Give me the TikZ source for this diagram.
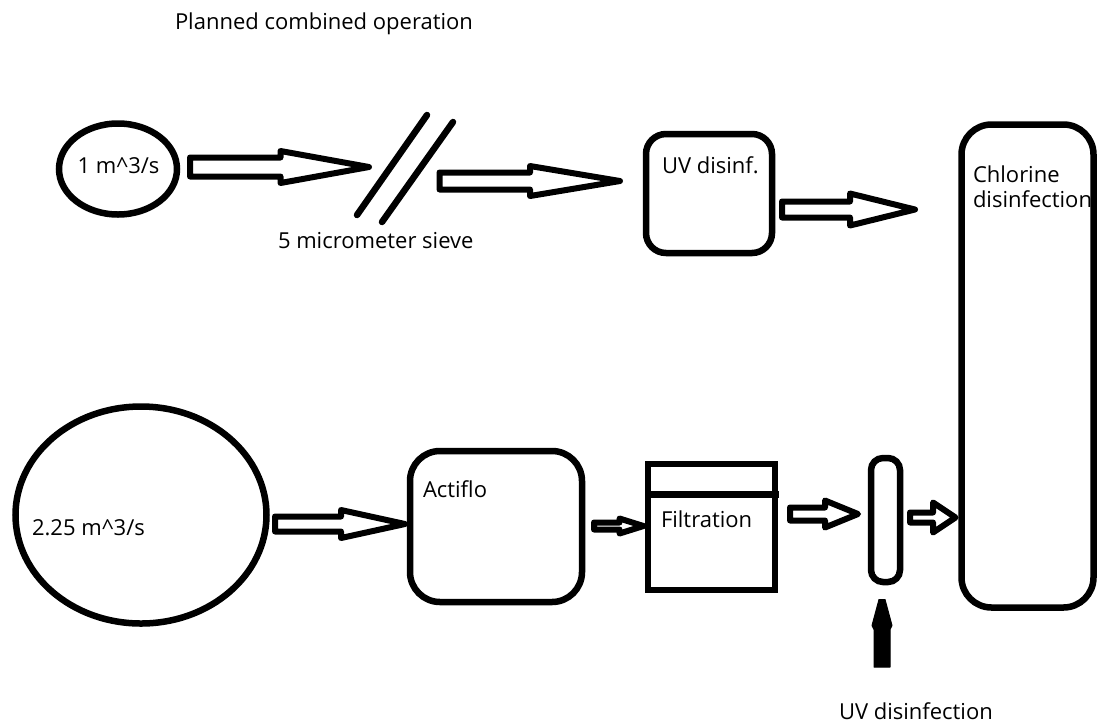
\documentclass[tikz,border=0pt]{standalone}
\usepackage{fontspec}
\setmainfont{Open Sans}
\usetikzlibrary{shapes.geometric,calc}
\tikzset{
  shapeline/.style={draw=black, line width=6.5pt, outer sep=0pt, inner sep=0pt},
  boxr/.style={shapeline, rectangle, rounded corners=#1},
  blk/.style={draw=black, line width=6pt, line join=round, fill=white},
  txt/.style={inner sep=0pt, outer sep=0pt, text=black, font=\fontsize{22}{25}\selectfont, align=left},
}
% hollow block arrow: #1 start, #2 tip, #3 shaft half height, #4 head half height, #5 head length
\newcommand{\harrow}[5]{%
  \draw[blk] let \p1=(#1), \p2=(#2) in
    (\x1,\y1+#3pt) -- (\x2-#5pt,\y1+#3pt) -- (\x2-#5pt,\y1+#4pt) -- (\x2,\y1)
    -- (\x2-#5pt,\y1-#4pt) -- (\x2-#5pt,\y1-#3pt) -- (\x1,\y1-#3pt) -- cycle;}
\begin{document}
\begin{tikzpicture}[x=1pt,y=-1pt]
\useasboundingbox (0,0) rectangle (1097,724);
\fill[white] (0,0) rectangle (1097,724);

% title
\node[txt, anchor=base west] (title) at (175,29) {Planned combined operation};

% upper line
\node[shapeline, ellipse, minimum width=118pt, minimum height=91pt] (src1) at (118,169) {};
\node[txt, anchor=base] (src1t) at (118.5,173) {1 m\textasciicircum 3/s};

\coordinate (sieve) at (405,168);
\draw[shapeline, line cap=round] ($(sieve)+(22,-53)$) -- ($(sieve)+(-48,47)$);
\draw[shapeline, line cap=round] ($(sieve)+(48,-46)$) -- ($(sieve)+(-23,54)$);
\node[txt, anchor=base west] (sievet) at (278,248) {5 micrometer sieve};

\node[boxr=20pt, minimum width=126pt, minimum height=119pt] (uv1) at (709,193.5) {};
\node[txt, anchor=base west] (uv1t) at (662,173) {UV disinf.};

\node[boxr=30pt, minimum width=132pt, minimum height=483pt] (cl) at (1027.5,366) {};
\node[txt, anchor=base west] (clt) at (973,182) {Chlorine};
\node[txt, anchor=base west] (clt2) at (973,207) {disinfection};

% lower line
\node[shapeline, ellipse, minimum width=251pt, minimum height=217pt] (src2) at (141,515) {};
\node[txt, anchor=base west] (src2t) at (32,535) {2.25 m\textasciicircum 3/s};

\node[boxr=30pt, minimum width=172pt, minimum height=151pt] (act) at (496,526.5) {};
\node[txt, anchor=base west] (actt) at (423,497) {Actiflo};

\node[shapeline, rectangle, minimum width=127pt, minimum height=126pt] (filt) at (711.5,527) {};
\draw[shapeline] ($(filt.north west)+(0,30.5)$) -- ($(filt.north east)+(4,30.5)$);
\node[txt, anchor=base west] (filtt) at (661,527) {Filtration};

\node[boxr=12pt, minimum width=29pt, minimum height=124pt] (uvs) at (885.5,520) {};
\node[txt, anchor=base west] (uvst) at (839,719) {UV disinfection};

% connectors
\coordinate (a1s) at ([shift={(13,-2)}]src1.east);
\coordinate (a1e) at ($(sieve)+(-36,-1)$);
\harrow{a1s}{a1e}{9.5}{16}{88.5}

\coordinate (a2s) at ($(sieve)+(34.5,13)$);
\coordinate (a2e) at ($(uv1.west |- a2s)+(-26,0)$);
\harrow{a2s}{a2e}{8.5}{15}{90}

\coordinate (a3s) at ([shift={(10,16)}]uv1.east);
\coordinate (a3e) at ($(cl.west |- a3s)+(-46.5,0)$);
\harrow{a3s}{a3e}{8}{16}{65}

\coordinate (a4s) at ([shift={(8.5,9)}]src2.east);
\coordinate (a4e) at ($(act.west |- a4s)+(-5,0)$);
\harrow{a4s}{a4e}{7.5}{14}{64}

\coordinate (a5s) at ([shift={(12,-0.5)}]act.east);
\coordinate (a5e) at ($(filt.west |- a5s)+(-4.5,0)$);
\harrow{a5s}{a5e}{3.5}{7.5}{24}

\coordinate (a6s) at ([shift={(15,-13)}]filt.east);
\coordinate (a6e) at ($(uvs.west |- a6s)+(-13,0)$);
\harrow{a6s}{a6e}{6.5}{13.5}{33}

\coordinate (a7s) at ([shift={(10,-2.5)}]uvs.east);
\coordinate (a7e) at ($(cl.west |- a7s)+(-6,0)$);
\harrow{a7s}{a7e}{5}{15}{22.5}

% UV light input arrow
\coordinate (uvin) at (882,667);
\filldraw[black, line width=1pt, line join=round] let \p1=(uvin), \p2=($(uvin |- uvs.south)+(0,17.5)$) in
  (\x1-8pt,\y1) -- (\x1+8pt,\y1) -- (\x1+8pt,\y2-30pt) -- (\x1+10pt,\y2-26pt)
  -- (\x2+3pt,\y2) -- (\x2-3pt,\y2) -- (\x1-10pt,\y2-26pt) -- (\x1-8pt,\y2-30pt) -- cycle;
\end{tikzpicture}
\end{document}
